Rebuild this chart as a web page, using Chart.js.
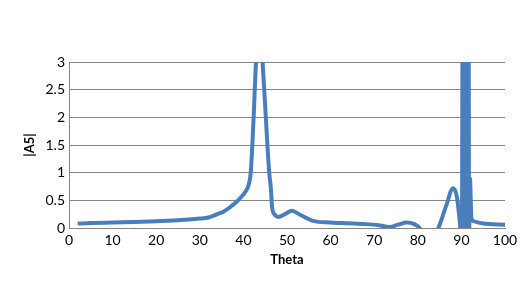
<!DOCTYPE html>
<html>
<head>
<meta charset="utf-8">
<script src="https://cdn.jsdelivr.net/npm/chart.js@4"></script>
<style>
  html, body { margin: 0; padding: 0; background: #fff; }
  canvas { display: block; }
</style>
</head>
<body>
<canvas id="chart" width="526" height="288"></canvas>
<script>
// values
const thetaValues = [2, 5, 10, 15, 20, 25, 28, 30, 32, 34, 35.5, 37, 38.5, 39.5, 40.5, 41.2, 41.7, 42.3, 42.9, 43.5, 44.0, 44.4, 45.2, 45.9, 46.3, 46.6, 47.2, 48.0, 49.5, 51.1, 53, 56, 60, 64, 68, 71, 73.5, 75.5, 77.4, 79.2, 80.5, 82, 84.7, 86.5, 88.1, 89, 89.7, 90.1, 90.4, 90.55, 90.7, 90.85, 91.0, 91.15, 91.3, 91.45, 91.6, 91.75, 91.95, 92.3, 92.9, 95, 100]
const a5Values = [0.08, 0.09, 0.1, 0.11, 0.12, 0.14, 0.16, 0.17, 0.19, 0.25, 0.3, 0.38, 0.48, 0.56, 0.66, 0.78, 1.02, 1.92, 3.0, 3.4, 3.4, 3.0, 1.92, 1.02, 0.72, 0.36, 0.24, 0.2, 0.25, 0.31, 0.24, 0.13, 0.1, 0.085, 0.07, 0.05, 0.02, 0.06, 0.1, 0.07, -0.01, -0.3, 0.0, 0.4, 0.72, 0.55, 0.05, -0.3, 8, -0.5, 8, -0.5, 8, -0.5, 8, -0.5, 8, -0.3, 0.9, 0.18, 0.12, 0.08, 0.06]
const xTicks = [0, 10, 20, 30, 40, 50, 60, 70, 80, 90, 100]
const yTicks = [0, 0.5, 1, 1.5, 2, 2.5, 3]

const points = thetaValues.map((t, i) => ({ x: t, y: a5Values[i] }))

const fontFamily = "Lato, 'Open Sans', sans-serif"
const gridColor = "#868686"

new Chart(document.getElementById("chart").getContext("2d"), {
  type: "line",
  data: {
    datasets: [
      {
        label: "|A5|",
        data: points,
        borderColor: "#4a7ebb",
        borderWidth: 4,
        pointRadius: 0,
        fill: false,
        cubicInterpolationMode: "monotone",
      },
    ],
  },
  options: {
    responsive: false,
    animation: false,
    layout: { padding: { left: 0, top: 62, right: 21, bottom: 0 } },
    plugins: {
      legend: { display: false },
      tooltip: { enabled: false },
    },
    scales: {
      x: {
        type: "linear",
        min: 0,
        max: 100,
        afterBuildTicks: (scale) => {
          scale.ticks = xTicks.map((v) => ({ value: v }))
        },
        afterFit: (scale) => {
          scale.height = 60
        },
        grid: { display: false, drawTicks: false },
        border: { display: true, color: gridColor, width: 1 },
        ticks: {
          padding: 4,
          color: "#000",
          font: { size: 14, family: fontFamily },
          callback: (v) => String(v),
        },
        title: {
          display: true,
          text: "Theta",
          color: "#000",
          font: { size: 13, weight: "bold", family: fontFamily },
          padding: { top: 0, bottom: 20 },
        },
      },
      y: {
        type: "linear",
        min: 0,
        max: 3,
        afterBuildTicks: (scale) => {
          scale.ticks = yTicks.map((v) => ({ value: v }))
        },
        afterFit: (scale) => {
          scale.width = 69
        },
        grid: { color: gridColor, drawTicks: false, lineWidth: 1 },
        border: { display: true, color: gridColor, width: 1 },
        ticks: {
          padding: 4,
          color: "#000",
          font: { size: 14, family: fontFamily },
          callback: (v) => String(v),
        },
        title: {
          display: true,
          text: "|A5|",
          color: "#000",
          font: { size: 13, weight: "bold", family: fontFamily },
          padding: { top: 22, bottom: 0 },
        },
      },
    },
  },
})
</script>
</body>
</html>
